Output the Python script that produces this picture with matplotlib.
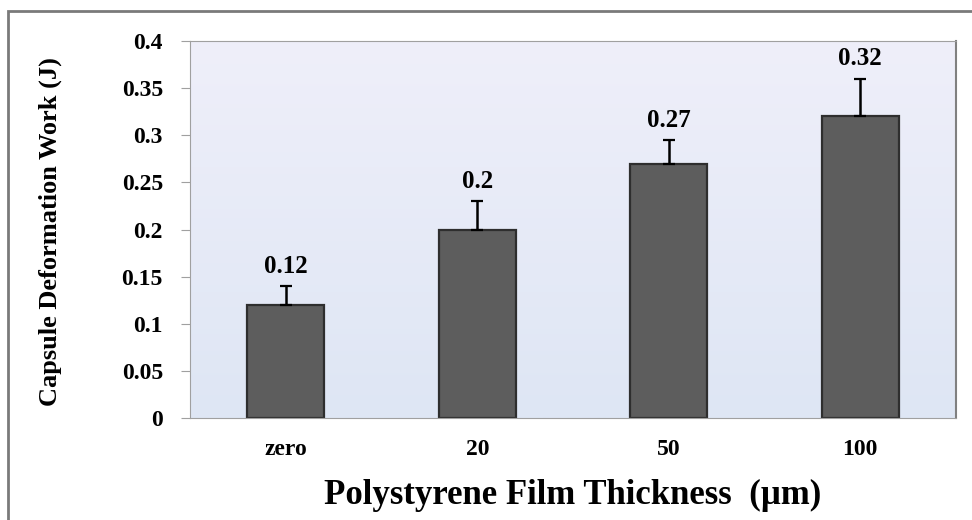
import numpy as np
import matplotlib
matplotlib.use("Agg")
import matplotlib.pyplot as plt
from matplotlib.patches import Rectangle
from matplotlib.colors import LinearSegmentedColormap

# data
categories = ["zero", "20", "50", "100"]
work = [0.12, 0.20, 0.27, 0.32]
err_up = [0.02, 0.03, 0.025, 0.04]
labels = ["0.12", "0.2", "0.27", "0.32"]
yticks = [0, 0.05, 0.1, 0.15, 0.2, 0.25, 0.3, 0.35, 0.4]
ytick_labels = ["0", "0.05", "0.1", "0.15", "0.2", "0.25", "0.3", "0.35", "0.4"]

plt.rcParams['font.family'] = ['Liberation Serif', 'DejaVu Serif']
plt.rcParams['font.weight'] = 'bold'

fig = plt.figure(figsize=(9.72, 5.2), dpi=100)
W, H = 972, 520

# outer frame
fig.patches.append(Rectangle((8 / W, -0.1), 1.2, 1 - 11 / H + 0.1, transform=fig.transFigure,
                             fill=False, edgecolor='#7a7a7a', linewidth=2))

ax = fig.add_axes([190 / W, 102 / H, 766 / W, 377 / H])

# gradient background of plot area
grad = np.linspace(0, 1, 256).reshape(-1, 1)
cmap = LinearSegmentedColormap.from_list("bg", ["#efeffa", "#dee6f4"])
ax.imshow(grad, extent=[0, 1, 0, 1], transform=ax.transAxes, aspect='auto',
          cmap=cmap, zorder=0)

x = np.arange(len(categories))
ax.bar(x, work, width=0.4, color='#5d5d5d', edgecolor='#2e2e2e', linewidth=1.6, zorder=2)
ax.errorbar(x, work, yerr=[np.zeros(len(work)), err_up], fmt='none', ecolor='black',
            elinewidth=1.8, capsize=4, capthick=1.6, zorder=3)

for xi, v, e, t in zip(x, work, err_up, labels):
    ax.annotate(t, (xi, v + e), xytext=(0, 6), textcoords='offset points',
                ha='center', va='bottom', fontsize=18, fontweight='bold')

ax.set_xlim(-0.5, 3.5)
ax.set_ylim(0, 0.4)
ax.set_yticks(yticks)
ax.set_yticklabels(ytick_labels, fontsize=17, fontweight='bold')
ax.set_xticks(x)
ax.set_xticklabels(categories, fontsize=17, fontweight='bold')
ax.tick_params(axis='x', length=0, pad=15)
ax.tick_params(axis='y', length=6.5, color='#a0a0a0', pad=13)

for s in ['left', 'top', 'bottom']:
    ax.spines[s].set_color('#a0a0a0')
ax.spines['right'].set_color('#808080')
ax.spines['right'].set_linewidth(1.5)

ax.set_xlabel("Polystyrene Film Thickness  (\u00b5m)", fontsize=25, fontweight='bold', labelpad=14)
fig.text(50 / W, 1 - 232 / H, "Capsule Deformation Work (J)", rotation=90,
         ha='center', va='center', fontsize=19, fontweight='bold')

fig.savefig("out.png", dpi=100)
